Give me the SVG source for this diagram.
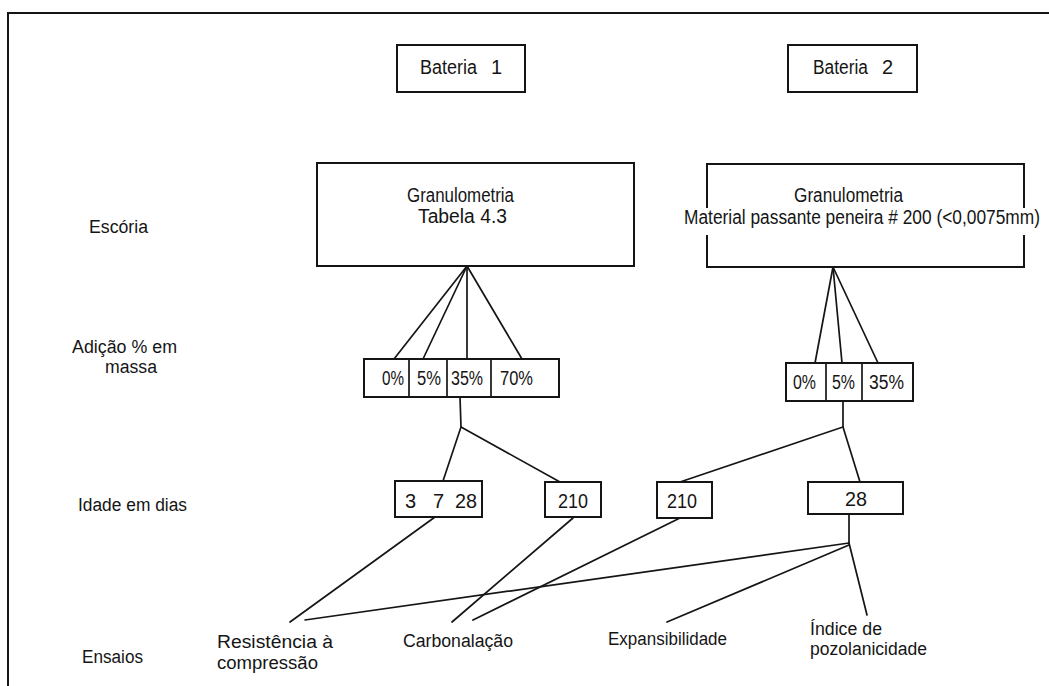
<svg xmlns="http://www.w3.org/2000/svg" width="1049" height="686" viewBox="0 0 1049 686">
  <style>
    .box { fill: #ffffff; stroke: #151515; stroke-width: 2; }
    .ln { fill: none; stroke: #151515; stroke-width: 1.7; stroke-linecap: round; }
    .frame { fill: none; stroke: #151515; stroke-width: 2; }
    .t { font-family: "Liberation Sans", Arial, sans-serif; font-size: 20px; fill: #151515; }
    .lbl { font-family: "Liberation Sans", Arial, sans-serif; font-size: 18px; fill: #151515; }
  </style>
  <rect x="0" y="0" width="1049" height="686" fill="#ffffff"/>
  <path class="frame" d="M8,686 L8,13 L1049,13"/>

  <g id="row-labels">
    <text class="lbl" x="89" y="233" textLength="59" lengthAdjust="spacingAndGlyphs">Escória</text>
    <text class="lbl" x="72" y="353" textLength="105" lengthAdjust="spacingAndGlyphs">Adição % em</text>
    <text class="lbl" x="105" y="373" textLength="52" lengthAdjust="spacingAndGlyphs">massa</text>
    <text class="lbl" x="78" y="511" textLength="109" lengthAdjust="spacingAndGlyphs">Idade em dias</text>
    <text class="lbl" x="82" y="663" textLength="61" lengthAdjust="spacingAndGlyphs">Ensaios</text>
  </g>

  <g id="connectors">
    <line class="ln" x1="467" y1="266" x2="394" y2="359"/>
    <line class="ln" x1="467" y1="266" x2="423" y2="359"/>
    <line class="ln" x1="467" y1="266" x2="467" y2="359"/>
    <line class="ln" x1="467" y1="266" x2="522" y2="359"/>
    <line class="ln" x1="833" y1="267" x2="815" y2="363"/>
    <line class="ln" x1="833" y1="267" x2="842" y2="363"/>
    <line class="ln" x1="833" y1="267" x2="878" y2="363"/>
    <polyline class="ln" points="460,397 461,427 443,481"/>
    <line class="ln" x1="461" y1="427" x2="560" y2="482"/>
    <polyline class="ln" points="843,401 843,427 680,482"/>
    <line class="ln" x1="843" y1="427" x2="860" y2="482"/>
    <line class="ln" x1="435" y1="517" x2="290" y2="622"/>
    <line class="ln" x1="573" y1="518" x2="452" y2="622"/>
    <line class="ln" x1="680" y1="518" x2="473" y2="620"/>
    <line class="ln" x1="849" y1="514" x2="849" y2="543"/>
    <line class="ln" x1="849" y1="543" x2="305" y2="620"/>
    <line class="ln" x1="849" y1="545" x2="667" y2="622"/>
    <line class="ln" x1="849" y1="543" x2="867" y2="615"/>
  </g>

  <g id="bateria1">
    <rect class="box" x="397" y="45" width="128" height="47"/>
    <text class="t" y="74"><tspan x="420" textLength="57" lengthAdjust="spacingAndGlyphs">Bateria</tspan><tspan x="491">1</tspan></text>
  </g>
  <g id="bateria2">
    <rect class="box" x="788" y="45" width="129" height="47"/>
    <text class="t" y="74"><tspan x="813" textLength="55" lengthAdjust="spacingAndGlyphs">Bateria</tspan><tspan x="882">2</tspan></text>
  </g>

  <g id="granulometria1">
    <rect class="box" x="317" y="163" width="317" height="103"/>
    <text class="t" x="407" y="202" textLength="107" lengthAdjust="spacingAndGlyphs">Granulometria</text>
    <text class="t" x="418" y="223" textLength="89" lengthAdjust="spacingAndGlyphs">Tabela 4.3</text>
  </g>
  <g id="granulometria2">
    <rect class="box" x="707" y="164" width="317" height="103"/>
    <text class="t" x="794" y="202" textLength="109" lengthAdjust="spacingAndGlyphs">Granulometria</text>
    <rect x="682" y="208" width="360" height="27" fill="#ffffff"/>
    <text class="t" x="684" y="224" textLength="356" lengthAdjust="spacingAndGlyphs">Material passante peneira # 200 (&lt;0,0075mm)</text>
  </g>

  <g id="adicao1">
    <rect class="box" x="364" y="359" width="195" height="38"/>
    <line class="ln" x1="409" y1="359" x2="409" y2="397"/>
    <line class="ln" x1="447" y1="359" x2="447" y2="397"/>
    <line class="ln" x1="491" y1="359" x2="491" y2="397"/>
    <text class="t" x="382" y="385" textLength="22" lengthAdjust="spacingAndGlyphs">0%</text>
    <text class="t" x="417" y="385" textLength="24" lengthAdjust="spacingAndGlyphs">5%</text>
    <text class="t" x="451" y="385" textLength="32" lengthAdjust="spacingAndGlyphs">35%</text>
    <text class="t" x="500" y="385" textLength="33" lengthAdjust="spacingAndGlyphs">70%</text>
  </g>
  <g id="adicao2">
    <rect class="box" x="786" y="363" width="127" height="38"/>
    <line class="ln" x1="826" y1="363" x2="826" y2="401"/>
    <line class="ln" x1="862" y1="363" x2="862" y2="401"/>
    <text class="t" x="793" y="389" textLength="23" lengthAdjust="spacingAndGlyphs">0%</text>
    <text class="t" x="832" y="389" textLength="23" lengthAdjust="spacingAndGlyphs">5%</text>
    <text class="t" x="869" y="389" textLength="35" lengthAdjust="spacingAndGlyphs">35%</text>
  </g>

  <g id="idade-3-7-28">
    <rect class="box" x="395" y="481" width="87" height="36"/>
    <text class="t" y="508"><tspan x="405">3</tspan><tspan x="433">7</tspan><tspan x="455" textLength="22" lengthAdjust="spacingAndGlyphs">28</tspan></text>
  </g>
  <g id="idade-210-b1">
    <rect class="box" x="545" y="482" width="56" height="35"/>
    <text class="t" x="558" y="508" textLength="30" lengthAdjust="spacingAndGlyphs">210</text>
  </g>
  <g id="idade-210-b2">
    <rect class="box" x="657" y="482" width="55" height="36"/>
    <text class="t" x="667" y="508" textLength="30" lengthAdjust="spacingAndGlyphs">210</text>
  </g>
  <g id="idade-28-b2">
    <rect class="box" x="808" y="482" width="95" height="32"/>
    <text class="t" x="845" y="506" textLength="22" lengthAdjust="spacingAndGlyphs">28</text>
  </g>

  <g id="ensaio-resistencia">
    <text class="lbl" x="217" y="648" textLength="116" lengthAdjust="spacingAndGlyphs">Resistência à</text>
    <text class="lbl" x="217" y="669" textLength="101" lengthAdjust="spacingAndGlyphs">compressão</text>
  </g>
  <g id="ensaio-carbonatacao">
    <text class="lbl" x="403" y="647" textLength="110" lengthAdjust="spacingAndGlyphs">Carbonalação</text>
  </g>
  <g id="ensaio-expansibilidade">
    <text class="lbl" x="608" y="645" textLength="119" lengthAdjust="spacingAndGlyphs">Expansibilidade</text>
  </g>
  <g id="ensaio-pozolanicidade">
    <text class="lbl" x="810" y="635" textLength="72" lengthAdjust="spacingAndGlyphs">Índice de</text>
    <text class="lbl" x="810" y="655" textLength="117" lengthAdjust="spacingAndGlyphs">pozolanicidade</text>
  </g>
</svg>
